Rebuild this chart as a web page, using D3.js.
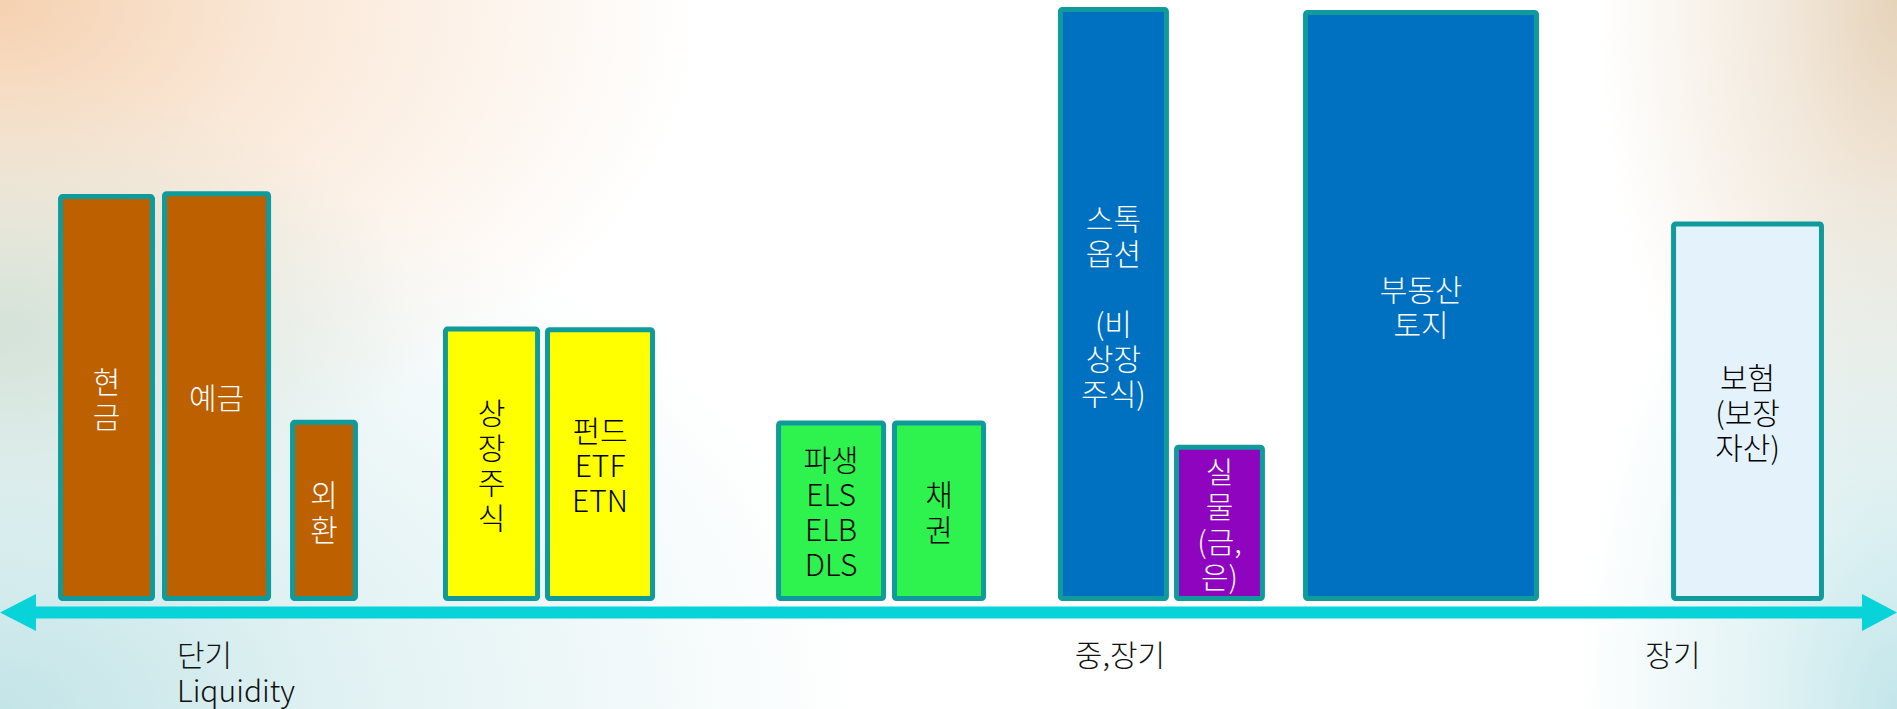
<!DOCTYPE html>
<html>
<head>
<meta charset="utf-8">
<script src="https://cdn.jsdelivr.net/npm/d3@7"></script>
<style>
  html, body { margin: 0; padding: 0; background: #fff; overflow: hidden; }
  svg { display: block; font-family: "Noto Sans CJK KR", "Noto Sans", sans-serif; }
</style>
</head>
<body>
<svg id="chart"></svg>
<script>
// Asset classes laid out along the liquidity / term axis (0 = short, 100 = long)
const assets = ["현금", "예금", "외환", "상장주식", "펀드", "파생", "채권", "스톡옵션", "실물", "부동산", "보험"];
const termStart = [3.06, 8.54, 15.29, 23.35, 28.73, 40.91, 47.02, 55.77, 61.89, 68.69, 88.09];
const termEnd   = [8.17, 14.29, 18.87, 28.47, 34.53, 46.71, 51.98, 61.62, 66.68, 81.13, 96.15];
const heights   = [68.5, 69.0, 30.5, 46.2, 46.1, 30.4, 30.4, 100, 26.3, 99.5, 63.9];
const groups    = ["cash", "cash", "cash", "stock", "stock", "deriv", "deriv", "real", "metal", "real", "insure"];
const labelLines = [
    ["현", "금"],
    ["예금"],
    ["외", "환"],
    ["상", "장", "주", "식"],
    ["펀드", "ETF", "ETN"],
    ["파생", "ELS", "ELB", "DLS"],
    ["채", "권"],
    ["스톡", "옵션", "", "(비", "상장", "주식)"],
    ["실", "물", "(금,", "은)"],
    ["부동산", "토지"],
    ["보험", "(보장", "자산)"]
];

// Term labels under the arrow
const termNames = [["단기", "Liquidity"], ["중,장기"], ["장기"]];
const termPos = [9.33, 59.04, 88.19];
const termAnchor = ["start", "middle", "middle"];

const fillColors = {
    cash: "#bc6000", stock: "#ffff00", deriv: "#2ef24e",
    real: "#0070c0", metal: "#8e04bf", insure: "#e4f2fc"
};
const textColors = {
    cash: "#ffffff", stock: "#000000", deriv: "#000000",
    real: "#ffffff", metal: "#ffffff", insure: "#000000"
};

const width = 1897, height = 709;
const svg = d3.select("#chart").attr("width", width).attr("height", height);

const x = d3.scaleLinear().domain([0, 100]).range([0, width]);
const y = d3.scaleLinear().domain([0, 100]).range([601, 7]);
const axisY = 612.5;

// Background glows
const defs = svg.append("defs");
function glow(id, cx, cy, rx, ry, color) {
    const g = defs.append("radialGradient")
        .attr("id", id)
        .attr("gradientUnits", "userSpaceOnUse")
        .attr("cx", 0).attr("cy", 0).attr("r", 1)
        .attr("gradientTransform", `translate(${cx},${cy}) scale(${rx},${ry})`);
    g.append("stop").attr("offset", 0).attr("stop-color", color).attr("stop-opacity", 1);
    g.append("stop").attr("offset", 0.4).attr("stop-color", color).attr("stop-opacity", 0.5);
    g.append("stop").attr("offset", 1).attr("stop-color", color).attr("stop-opacity", 0);
}
glow("tl", 0, 0, 700, 480, "#f5d1b0");
glow("ml", 0, 330, 420, 260, "#dbe2d3");
glow("bl", 0, 709, 860, 560, "#c3e4e7");
glow("tr", 1897, 0, 300, 560, "#e6d3ba");
glow("br", 1897, 709, 320, 560, "#c3e6ea");

svg.append("rect").attr("width", width).attr("height", height).attr("fill", "#ffffff");
["tl", "ml", "bl", "tr", "br"].forEach(id => {
    svg.append("rect").attr("width", width).attr("height", height).attr("fill", `url(#${id})`);
});

// Double-headed arrow
const arrowColor = "#07d3d9";
svg.append("rect")
    .attr("x", x(0) + 35).attr("y", axisY - 6)
    .attr("width", x(100) - 70).attr("height", 12)
    .attr("fill", arrowColor);
svg.append("path")
    .attr("d", `M${x(0)},${axisY} L${x(0) + 36},${axisY - 18.5} L${x(0) + 36},${axisY + 18.5} Z`)
    .attr("fill", arrowColor);
svg.append("path")
    .attr("d", `M${x(100)},${axisY} L${x(100) - 35},${axisY - 18.5} L${x(100) - 35},${axisY + 18.5} Z`)
    .attr("fill", arrowColor);

// Bars
const data = assets.map((name, i) => ({
    name, x0: termStart[i], x1: termEnd[i], h: heights[i], g: groups[i], lines: labelLines[i]
}));

const sw = 5;
svg.append("g").selectAll("rect")
    .data(data)
    .join("rect")
    .attr("x", d => x(d.x0) + sw / 2)
    .attr("y", d => y(d.h) + sw / 2)
    .attr("width", d => x(d.x1) - x(d.x0) - sw)
    .attr("height", d => y(0) - y(d.h) - sw)
    .attr("rx", 2)
    .attr("fill", d => fillColors[d.g])
    .attr("stroke", "#0f9b9b")
    .attr("stroke-width", sw);

// Bar labels, block centred in each bar
const lineH = 35;
const labels = svg.append("g").selectAll("text")
    .data(data)
    .join("text")
    .attr("text-anchor", "middle")
    .attr("font-size", 30)
    .attr("font-weight", 300)
    .attr("fill", d => textColors[d.g]);

labels.each(function (d) {
    const cx = (x(d.x0) + x(d.x1)) / 2;
    const cy = (y(d.h) + y(0)) / 2;
    const top = cy - (d.lines.length * lineH) / 2;
    d3.select(this).selectAll("tspan")
        .data(d.lines)
        .join("tspan")
        .attr("x", cx)
        .attr("y", (l, i) => top + i * lineH + lineH / 2)
        .attr("dominant-baseline", "central")
        .text(l => l === "" ? "\u00a0" : l);
});

// Term labels
const termG = svg.append("g");
termNames.forEach((lines, i) => {
    const t = termG.append("text")
        .attr("text-anchor", termAnchor[i])
        .attr("font-size", 30)
        .attr("font-weight", 300)
        .attr("fill", "#111");
    lines.forEach((l, j) => {
        t.append("tspan")
            .attr("x", x(termPos[i]))
            .attr("y", 666 + j * 36)
            .text(l);
    });
});
</script>
</body>
</html>
